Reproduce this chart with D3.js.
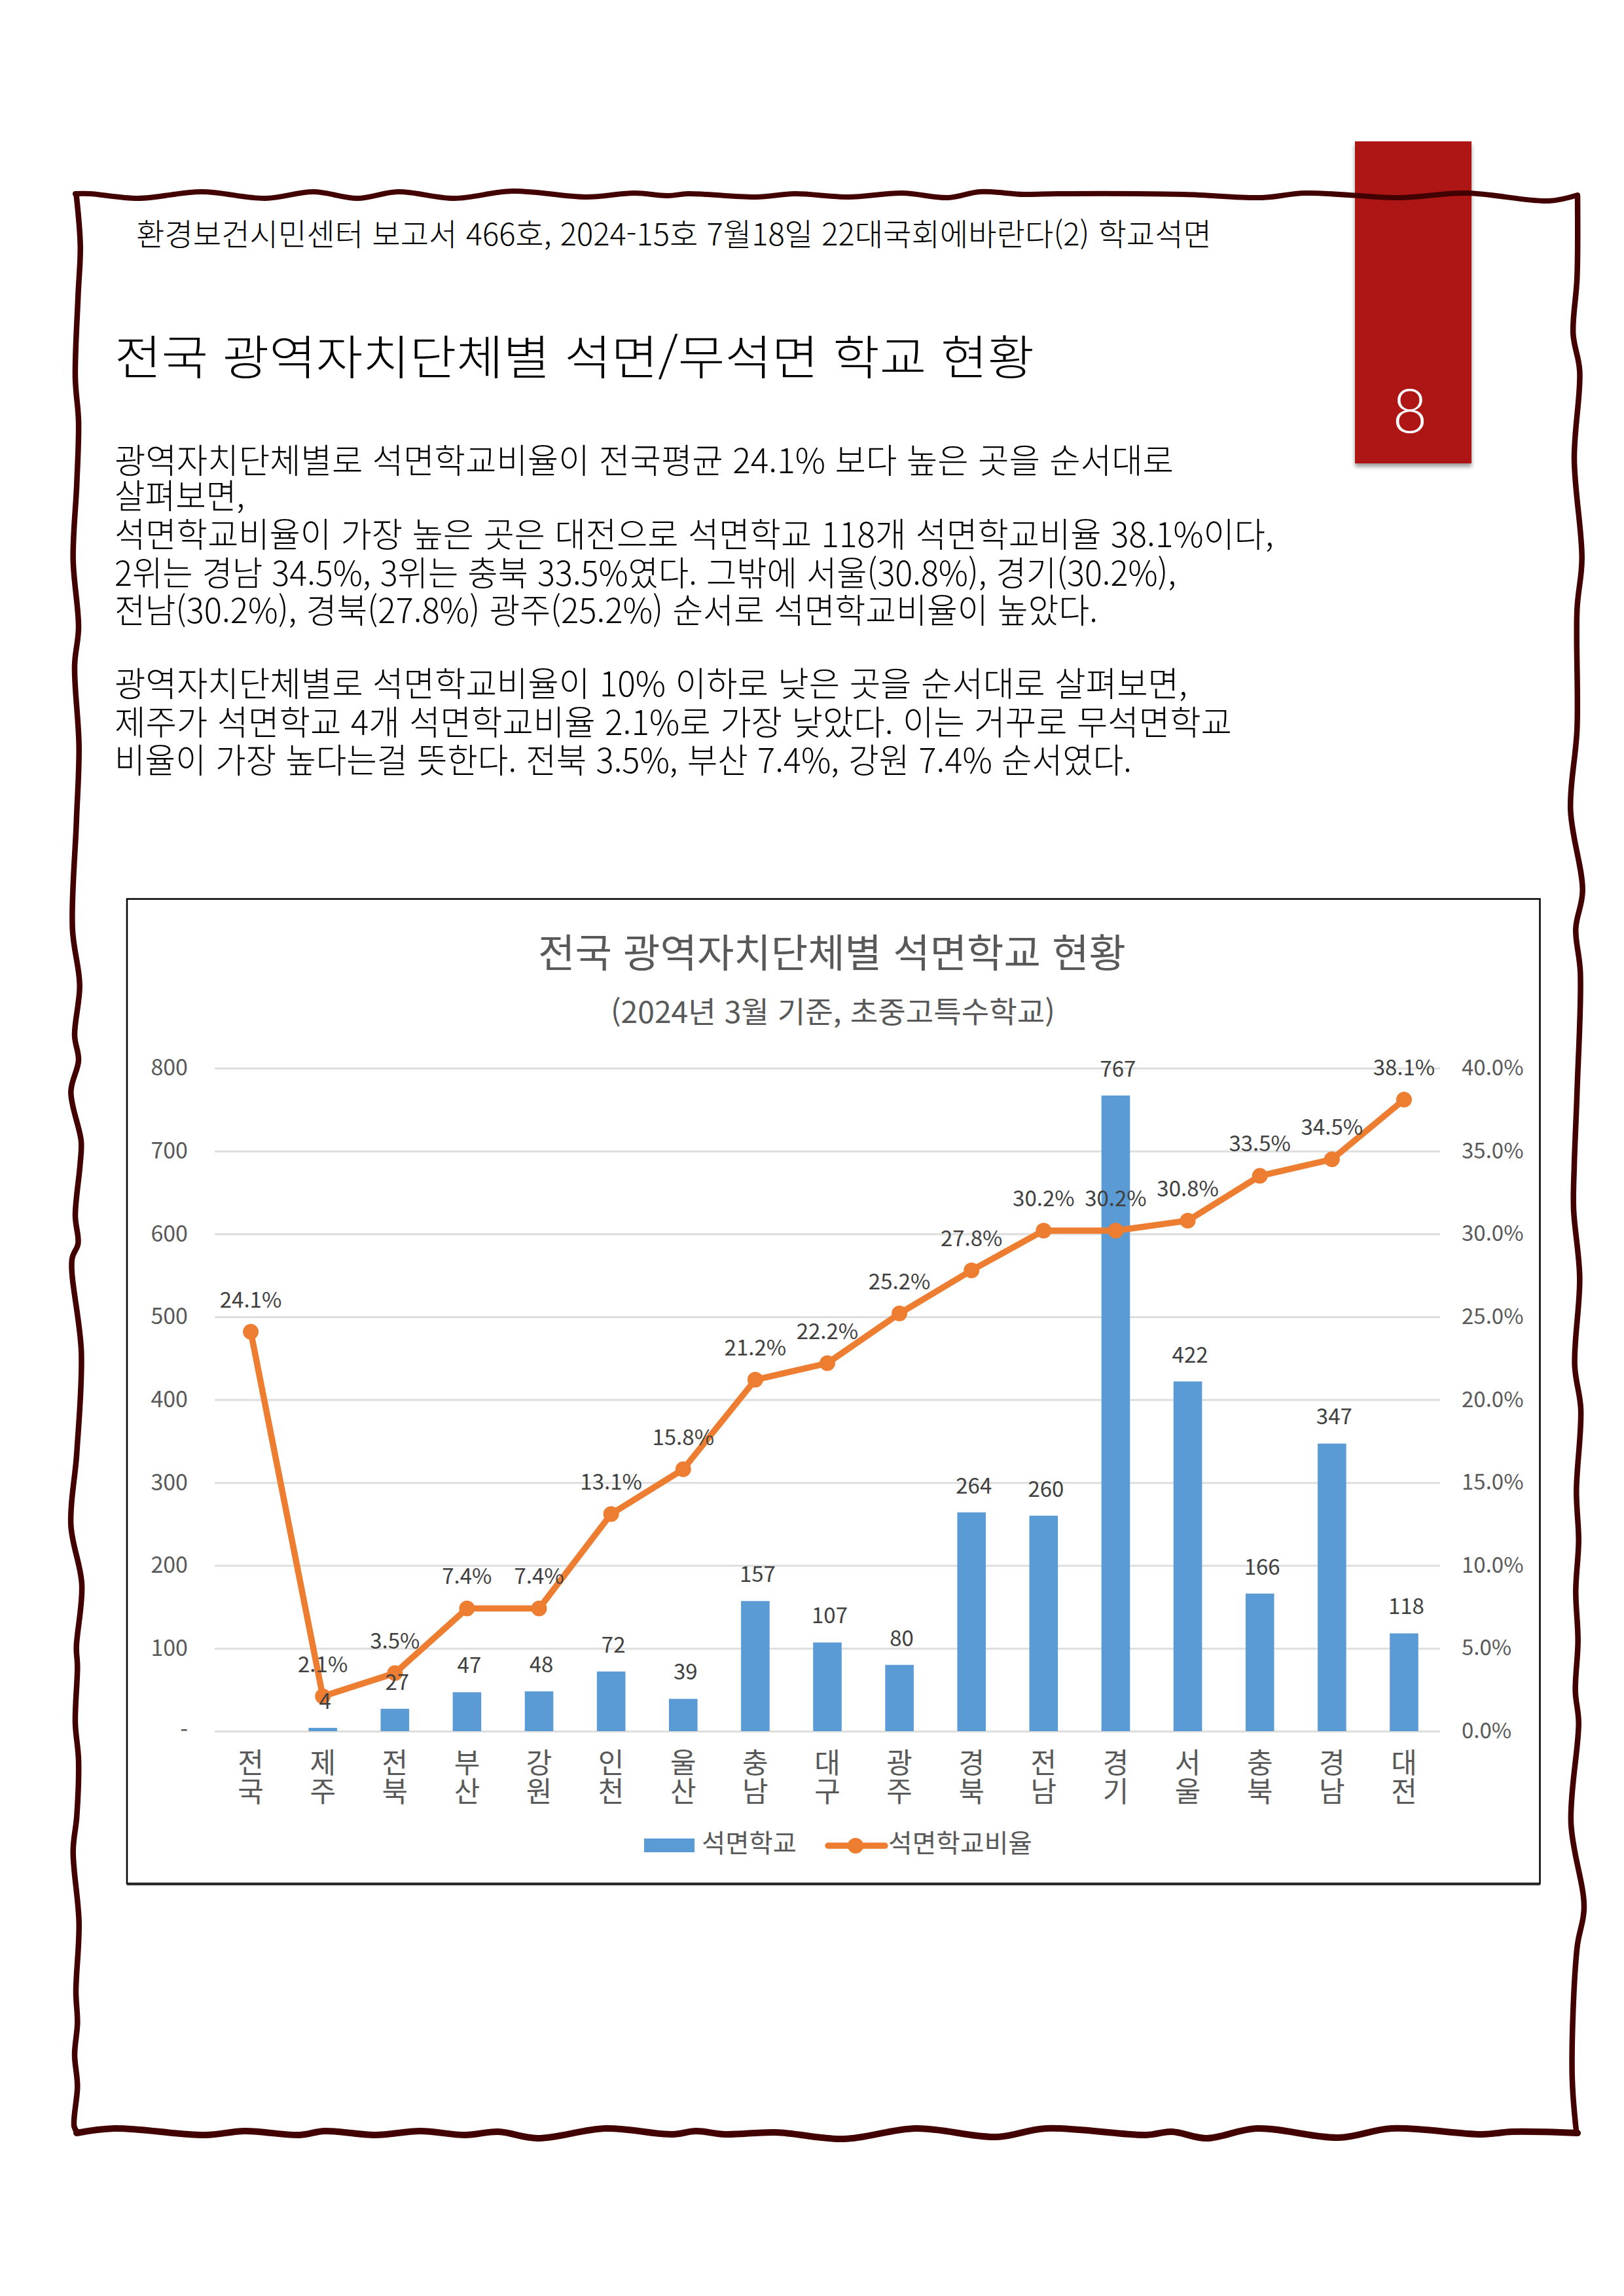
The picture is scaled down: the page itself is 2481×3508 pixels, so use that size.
<!DOCTYPE html>
<html lang="ko">
<head>
<meta charset="utf-8">
<script src="https://cdn.jsdelivr.net/npm/d3@7/dist/d3.min.js"></script>
<style>
html,body{margin:0;padding:0;background:#fff}
svg{display:block}
text{font-family:"Noto Sans CJK KR","Noto Sans",sans-serif}
</style>
</head>
<body>
<svg id="page" width="2481" height="3508" viewBox="0 0 2481 3508" xmlns="http://www.w3.org/2000/svg"></svg>
<script>
// ---------- chart data ----------
const regions = ["전국","제주","전북","부산","강원","인천","울산","충남","대구","광주","경북","전남","경기","서울","충북","경남","대전"];
const schools = [null,4,27,47,48,72,39,157,107,80,264,260,767,422,166,347,118];
const rates = [24.1,2.1,3.5,7.4,7.4,13.1,15.8,21.2,22.2,25.2,27.8,30.2,30.2,30.8,33.5,34.5,38.1];
const countTicks = [0,100,200,300,400,500,600,700,800];
const rateTicks = [0,5,10,15,20,25,30,35,40];
const seriesNames = ["석면학교","석면학교비율"];
const chartTitle = "전국 광역자치단체별 석면학교 현황";
const chartSubtitle = "(2024년 3월 기준, 초중고특수학교)";

// ---------- page text ----------
const headerLine = "환경보건시민센터 보고서 466호, 2024-15호 7월18일 22대국회에바란다(2) 학교석면";
const headingLine = "전국 광역자치단체별 석면/무석면 학교 현황";
const bodyLines = [
  "광역자치단체별로 석면학교비율이 전국평균 24.1% 보다 높은 곳을 순서대로",
  "살펴보면,",
  "석면학교비율이 가장 높은 곳은 대전으로 석면학교 118개 석면학교비율 38.1%이다,",
  "2위는 경남 34.5%, 3위는 충북 33.5%였다. 그밖에 서울(30.8%), 경기(30.2%),",
  "전남(30.2%), 경북(27.8%) 광주(25.2%) 순서로 석면학교비율이 높았다.",
  "광역자치단체별로 석면학교비율이 10% 이하로 낮은 곳을 순서대로 살펴보면,",
  "제주가 석면학교 4개 석면학교비율 2.1%로 가장 낮았다. 이는 거꾸로 무석면학교",
  "비율이 가장 높다는걸 뜻한다. 전북 3.5%, 부산 7.4%, 강원 7.4% 순서였다."
];
const bodyLineY = [704,758,817,876,933,1045,1104,1162];
const bodyLineRight = [1793,374,1946,1797,1677,1814,1882,1729];

// ---------- hand-drawn frame ----------
const frameTop = [[115,296],[137,296],[211,303],[308,293],[405,303],[479,293],[546,303],[608,293],[694,303],[783,292],[895,301],[969,295],[1021,299],[1051,296],[1155,301],[1214,296],[1296,301],[1378,295],[1449,302],[1497,293],[1564,297],[1616,296],[1809,297],[1928,302],[1994,295],[2136,302],[2240,295],[2366,307],[2410,298]];
const frameBottom = [[117,3259],[175,3252],[313,3262],[374,3256],[458,3262],[496,3256],[573,3262],[642,3256],[711,3262],[761,3257],[821,3267],[925,3252],[1027,3261],[1063,3256],[1108,3261],[1185,3258],[1289,3268],[1399,3252],[1522,3265],[1598,3252],[1751,3262],[1790,3257],[1843,3267],[1920,3252],[2045,3266],[2126,3252],[2264,3261],[2310,3257],[2410,3259]];
const frameLeft = [[116.7,299],[122.7,376],[119.3,452],[115,577],[120,644],[117.3,739],[111.7,854],[120,959],[114,1017],[120.7,1141],[116.7,1256],[110.7,1419],[121.7,1505],[114,1582],[120,1620],[108.3,1668],[124,1744],[122.3,1780],[115,1857],[119.3,1900],[110,1924],[124.3,2067],[117.3,2220],[108.3,2330],[125,2421],[116.7,2517],[118.3,2546],[115,2632],[120,2689],[117.3,2775],[111.7,2828],[120.7,2938],[116,3043],[118.3,3091],[114,3139],[118.3,3187],[113.3,3249],[118.3,3258]];
const frameRight = [[2410,299],[2409.3,424],[2403.3,510],[2413.3,567],[2405,701],[2416.7,854],[2409.3,931],[2409.3,1113],[2399.3,1237],[2417.7,1361],[2407.3,1419],[2414.3,1486],[2409.3,1668],[2405,1780],[2404,1847],[2413.3,1952],[2405.7,2086],[2415,2153],[2408.3,2278],[2411.7,2354],[2407.3,2431],[2410.7,2507],[2406.7,2584],[2411.7,2632],[2400,2785],[2420,2914],[2409.3,2976],[2401.7,3168],[2408.3,3258]];

const svg = d3.select("#page");
const FRAME_COLOR = "#430000", RED = "#AE1512";
const BLUE = "#5B9BD5", ORANGE = "#ED7D31", GRID = "#DEDEDE", AXIS_TEXT = "#595959", LABEL_TEXT = "#404040";

const defs = svg.append("defs");
const shadow = defs.append("filter").attr("id","tabShadow").attr("x","-10%").attr("y","-5%").attr("width","120%").attr("height","112%");
shadow.append("feDropShadow").attr("dx",0).attr("dy",5).attr("stdDeviation",3).attr("flood-color","#000").attr("flood-opacity",0.4);

function fitText(sel, x, y, anchor, str, width, size, fill, weight){
  return sel.append("text").attr("x",x).attr("y",y).attr("dy","0.36em")
    .attr("text-anchor",anchor).attr("font-size",size).attr("font-weight",weight||300).attr("fill",fill)
    .attr("textLength",width).attr("lengthAdjust","spacingAndGlyphs").text(str);
}

// ---------- page tab ----------
svg.append("rect").attr("x",2070).attr("y",216).attr("width",178).attr("height",492).attr("fill",RED).attr("filter","url(#tabShadow)");
svg.append("text").attr("x",2154).attr("y",628).attr("dy","0.36em").attr("text-anchor","middle")
  .attr("font-size",92).attr("font-weight",300).attr("fill","#fff").style("font-family","Lato,'Noto Sans',sans-serif").text("8");

// ---------- frame ----------
const frameLine = d3.line().curve(d3.curveBasis);
const frameLineExact = d3.line().curve(d3.curveCatmullRom.alpha(0.5));
[[frameLeft,8.5],[frameRight,8.5],[frameTop,8],[frameBottom,10]].forEach(([pts,w])=>{
  svg.append("path").attr("d",frameLineExact(pts)).attr("fill","none").attr("stroke",FRAME_COLOR).attr("stroke-width",w).attr("stroke-linecap","round").attr("stroke-linejoin","round");
});

// ---------- page text ----------
fitText(svg,208,358,"start",headerLine,1643,47,"#000");
fitText(svg,175,546,"start",headingLine,1405,72,"#000");
bodyLines.forEach((t,i)=>fitText(svg,175,bodyLineY[i],"start",t,bodyLineRight[i]-175,52,"#000"));

// ---------- chart box ----------
svg.append("rect").attr("x",194).attr("y",1373.5).attr("width",2158.5).attr("height",1504.5)
  .attr("fill","#fff").attr("stroke","#000").attr("stroke-width",2.5);
svg.append("line").attr("x1",194).attr("x2",2352.5).attr("y1",2878.5).attr("y2",2878.5).attr("stroke","#222").attr("stroke-width",4);
fitText(svg,822,1456,"start",chartTitle,898,60,AXIS_TEXT,400);
fitText(svg,933,1547,"start",chartSubtitle,679,45,AXIS_TEXT,400);

const x = d3.scaleBand().domain(regions).range([328,2200]).paddingInner(0.604).paddingOuter(0.302);
const y = d3.scaleLinear().domain([0,800]).range([2645,1632]);
const y2 = d3.scaleLinear().domain([0,40]).range([2645,1632]);
const cx = d => x(d)+x.bandwidth()/2;

const leftAxis = svg.append("g").attr("transform","translate(328,0)")
  .call(d3.axisLeft(y).tickValues(countTicks).tickSize(-1872).tickPadding(41).tickFormat(d=>d===0?"-":d));
leftAxis.select(".domain").remove();
leftAxis.selectAll("line").attr("stroke",GRID).attr("stroke-width",3);
leftAxis.selectAll("text").attr("fill",AXIS_TEXT).attr("font-size",34);

const rightAxis = svg.append("g").attr("transform","translate(2200,0)")
  .call(d3.axisRight(y2).tickValues(rateTicks).tickSize(0).tickPadding(33).tickFormat(d=>d.toFixed(1)+"%"));
rightAxis.select(".domain").remove();
rightAxis.selectAll("text").attr("fill",AXIS_TEXT).attr("font-size",33);

const bottomAxis = svg.append("g").attr("transform","translate(0,2645)")
  .call(d3.axisBottom(x).tickSize(0).tickPadding(0));
bottomAxis.select(".domain").remove();
bottomAxis.selectAll("text").each(function(d){
  const t = d3.select(this).text("").attr("fill",AXIS_TEXT).attr("font-size",43).attr("y",0).attr("dy",null);
  Array.from(d).forEach((ch,i)=>{
    t.append("tspan").attr("x",0).attr("y",49+44*i).attr("dy","0.36em").text(ch);
  });
});

const rows = regions.map((r,i)=>({region:r,count:schools[i],rate:rates[i]}));
const barRows = rows.filter(d=>d.count!==null);

svg.append("g").selectAll("rect").data(barRows).join("rect")
  .attr("x",d=>x(d.region)).attr("y",d=>y(d.count))
  .attr("width",x.bandwidth()).attr("height",d=>y(0)-y(d.count)).attr("fill",BLUE);

const rateLine = d3.line().x(d=>cx(d.region)).y(d=>y2(d.rate));
svg.append("path").datum(rows).attr("d",rateLine).attr("fill","none").attr("stroke",ORANGE)
  .attr("stroke-width",9.5).attr("stroke-linejoin","round").attr("stroke-linecap","round");
svg.append("g").selectAll("circle").data(rows).join("circle")
  .attr("cx",d=>cx(d.region)).attr("cy",d=>y2(d.rate)).attr("r",12).attr("fill",ORANGE);

svg.append("g").selectAll("text").data(barRows).join("text")
  .attr("x",d=>cx(d.region)+3.5).attr("y",d=>y(d.count)-41).attr("dy","0.36em")
  .attr("text-anchor","middle").attr("font-size",33).attr("fill",LABEL_TEXT).text(d=>d.count);
svg.append("g").selectAll("text").data(rows).join("text")
  .attr("x",d=>cx(d.region)).attr("y",d=>y2(d.rate)-49).attr("dy","0.36em")
  .attr("text-anchor","middle").attr("font-size",33).attr("fill",LABEL_TEXT).text(d=>d.rate.toFixed(1)+"%");

// ---------- legend ----------
svg.append("rect").attr("x",984).attr("y",2809).attr("width",77).attr("height",21).attr("fill",BLUE);
fitText(svg,1072,2816,"start",seriesNames[0],145,39,AXIS_TEXT,400);
svg.append("line").attr("x1",1265).attr("x2",1352).attr("y1",2820).attr("y2",2820)
  .attr("stroke",ORANGE).attr("stroke-width",9.5).attr("stroke-linecap","round");
svg.append("circle").attr("cx",1307).attr("cy",2820).attr("r",12).attr("fill",ORANGE);
fitText(svg,1357,2816,"start",seriesNames[1],220,39,AXIS_TEXT,400);
</script>
</body>
</html>
